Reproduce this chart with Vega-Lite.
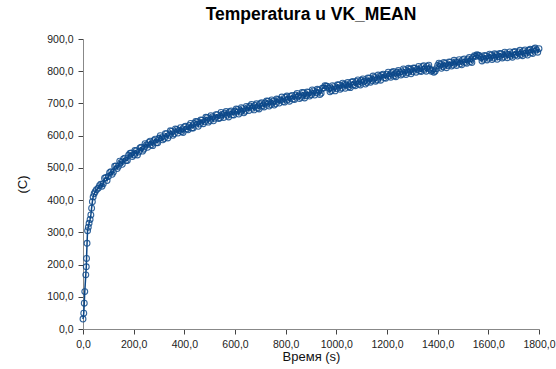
{
  "$schema": "https://vega.github.io/schema/vega-lite/v6.json",
  "autosize": {"type": "none"},
  "width": 456,
  "height": 290,
  "padding": {"left": 83, "top": 39, "right": 17, "bottom": 40},
  "background": "white",
  "title": {"text": "Temperatura u VK_MEAN", "fontSize": 17.5, "fontWeight": "bold", "font": "Liberation Sans", "color": "#000000", "anchor": "middle", "baseline": "alphabetic", "offset": -3},
  "config": {
    "view": {"stroke": null},
    "axis": {"grid": false, "font": "Liberation Sans", "labelFont": "Liberation Sans", "titleFont": "Liberation Sans", "labelFontSize": 10.5, "labelColor": "#222222", "titleFontSize": 13, "titleFontWeight": "normal", "titleColor": "#111111", "domainColor": "#888888", "tickColor": "#444444", "tickSize": 5, "labelPadding": 5}
  },
  "data": {"values": [
    {"t":0,"T":31},{"t":3,"T":49},{"t":5,"T":80},{"t":7,"T":116},{"t":11,"T":168},{"t":13,"T":193},{"t":14,"T":219},{"t":16,"T":266},{"t":18,"T":305},{"t":21,"T":316},{"t":24,"T":328},{"t":28,"T":340},{"t":31,"T":354},{"t":34,"T":375},{"t":37,"T":395},{"t":40,"T":410},{"t":44,"T":420},{"t":48,"T":426},{"t":53,"T":432},{"t":60,"T":437},
    {"t":70,"T":449},{"t":80,"T":451},{"t":90,"T":470},{"t":100,"T":473},{"t":110,"T":488},{"t":120,"T":487},{"t":130,"T":506},{"t":140,"T":505},{"t":150,"T":517},{"t":160,"T":528},{"t":170,"T":523},{"t":180,"T":539},{"t":190,"T":546},{"t":200,"T":540},
    {"t":210,"T":553},{"t":220,"T":549},{"t":230,"T":564},{"t":240,"T":558},{"t":250,"T":571},{"t":260,"T":579},{"t":270,"T":572},{"t":280,"T":585},{"t":290,"T":578},{"t":300,"T":592},
    {"t":310,"T":594},{"t":320,"T":591},{"t":330,"T":606},{"t":340,"T":601},{"t":350,"T":613},{"t":360,"T":606},{"t":370,"T":619},{"t":380,"T":616},{"t":390,"T":613},{"t":400,"T":627},
    {"t":410,"T":621},{"t":420,"T":632},{"t":430,"T":624},{"t":440,"T":638},{"t":450,"T":643},{"t":460,"T":636},{"t":470,"T":648},{"t":480,"T":643},{"t":490,"T":656},{"t":500,"T":647},
    {"t":510,"T":658},{"t":520,"T":654},{"t":530,"T":665},{"t":540,"T":655},{"t":550,"T":666},{"t":560,"T":670},{"t":570,"T":663},{"t":580,"T":674},{"t":590,"T":665},{"t":600,"T":676},
    {"t":610,"T":681},{"t":620,"T":673},{"t":630,"T":684},{"t":640,"T":676},{"t":650,"T":687},{"t":660,"T":692},{"t":670,"T":685},{"t":680,"T":694},{"t":690,"T":686},{"t":700,"T":699},
    {"t":710,"T":693},{"t":720,"T":702},{"t":730,"T":707},{"t":740,"T":697},{"t":750,"T":707},{"t":760,"T":699},{"t":770,"T":712},{"t":780,"T":711},{"t":790,"T":706},{"t":800,"T":719},
    {"t":810,"T":712},{"t":820,"T":722},{"t":830,"T":714},{"t":840,"T":726},{"t":850,"T":723},{"t":860,"T":719},{"t":870,"T":733},{"t":880,"T":724},{"t":890,"T":734},{"t":900,"T":727},
    {"t":910,"T":739},{"t":920,"T":733},{"t":930,"T":741},{"t":940,"T":732},{"t":950,"T":748},{"t":960,"T":754},{"t":970,"T":747},{"t":980,"T":740},{"t":990,"T":752},{"t":1000,"T":746},
    {"t":1010,"T":757},{"t":1020,"T":748},{"t":1030,"T":759},{"t":1040,"T":758},{"t":1050,"T":752},{"t":1060,"T":766},{"t":1070,"T":758},{"t":1080,"T":768},{"t":1090,"T":760},{"t":1100,"T":772},
    {"t":1110,"T":769},{"t":1120,"T":765},{"t":1130,"T":778},{"t":1140,"T":771},{"t":1150,"T":781},{"t":1160,"T":773},{"t":1170,"T":784},{"t":1180,"T":788},{"t":1190,"T":780},{"t":1200,"T":791},
    {"t":1210,"T":785},{"t":1220,"T":796},{"t":1230,"T":786},{"t":1240,"T":797},{"t":1250,"T":797},{"t":1260,"T":791},{"t":1270,"T":804},{"t":1280,"T":796},{"t":1290,"T":806},{"t":1300,"T":798},
    {"t":1310,"T":809},{"t":1320,"T":806},{"t":1330,"T":801},{"t":1340,"T":814},{"t":1350,"T":806},{"t":1360,"T":815},{"t":1370,"T":806},{"t":1380,"T":803},{"t":1390,"T":800},{"t":1400,"T":818},
    {"t":1410,"T":822},{"t":1420,"T":814},{"t":1430,"T":824},{"t":1440,"T":818},{"t":1450,"T":828},{"t":1460,"T":819},{"t":1470,"T":829},{"t":1480,"T":829},{"t":1490,"T":823},{"t":1500,"T":836},
    {"t":1510,"T":828},{"t":1520,"T":838},{"t":1530,"T":830},{"t":1540,"T":843},{"t":1550,"T":846},{"t":1560,"T":850},{"t":1570,"T":843},{"t":1580,"T":837},{"t":1590,"T":847},{"t":1600,"T":840},
    {"t":1610,"T":850},{"t":1620,"T":841},{"t":1630,"T":851},{"t":1640,"T":845},{"t":1650,"T":854},{"t":1660,"T":844},{"t":1670,"T":854},{"t":1680,"T":852},{"t":1690,"T":847},{"t":1700,"T":859},
    {"t":1710,"T":851},{"t":1720,"T":860},{"t":1730,"T":852},{"t":1740,"T":863},{"t":1750,"T":856},{"t":1760,"T":865},{"t":1770,"T":858},{"t":1780,"T":869},{"t":1790,"T":866},{"t":1800,"T":870},
    {"t":65,"T":445},{"t":75,"T":443},{"t":85,"T":468},{"t":95,"T":461},{"t":105,"T":485},{"t":115,"T":480},{"t":125,"T":505},{"t":135,"T":498},{"t":145,"T":521},{"t":155,"T":511},
    {"t":165,"T":530},{"t":175,"T":523},{"t":185,"T":545},{"t":195,"T":535},{"t":205,"T":554},{"t":215,"T":540},{"t":225,"T":562},{"t":235,"T":552},{"t":245,"T":575},{"t":255,"T":564},
    {"t":265,"T":583},{"t":275,"T":569},{"t":285,"T":589},{"t":295,"T":578},{"t":305,"T":600},{"t":315,"T":587},{"t":325,"T":606},{"t":335,"T":593},{"t":345,"T":615},{"t":355,"T":601},
    {"t":365,"T":621},{"t":375,"T":608},{"t":385,"T":625},{"t":395,"T":610},{"t":405,"T":629},{"t":415,"T":618},{"t":425,"T":638},{"t":435,"T":624},{"t":445,"T":644},{"t":455,"T":629},
    {"t":465,"T":649},{"t":475,"T":637},{"t":485,"T":657},{"t":495,"T":642},{"t":505,"T":662},{"t":515,"T":646},{"t":525,"T":665},{"t":535,"T":653},{"t":545,"T":672},{"t":555,"T":656},
    {"t":565,"T":675},{"t":575,"T":658},{"t":585,"T":677},{"t":595,"T":664},{"t":605,"T":683},{"t":615,"T":667},{"t":625,"T":687},{"t":635,"T":671},{"t":645,"T":691},{"t":655,"T":678},
    {"t":665,"T":697},{"t":675,"T":680},{"t":685,"T":699},{"t":695,"T":683},{"t":705,"T":702},{"t":715,"T":689},{"t":725,"T":708},{"t":735,"T":692},{"t":745,"T":711},{"t":755,"T":695},
    {"t":765,"T":714},{"t":775,"T":701},{"t":785,"T":720},{"t":795,"T":704},{"t":805,"T":723},{"t":815,"T":707},{"t":825,"T":725},{"t":835,"T":712},{"t":845,"T":731},{"t":855,"T":715},
    {"t":865,"T":734},{"t":875,"T":717},{"t":885,"T":736},{"t":895,"T":723},{"t":905,"T":742},{"t":915,"T":726},{"t":925,"T":744},{"t":935,"T":728},{"t":945,"T":747},{"t":955,"T":755},
    {"t":965,"T":753},{"t":975,"T":736},{"t":985,"T":755},{"t":995,"T":739},{"t":1005,"T":758},{"t":1015,"T":744},{"t":1025,"T":763},{"t":1035,"T":747},{"t":1045,"T":765},{"t":1055,"T":749},
    {"t":1065,"T":768},{"t":1075,"T":755},{"t":1085,"T":773},{"t":1095,"T":757},{"t":1105,"T":776},{"t":1115,"T":760},{"t":1125,"T":779},{"t":1135,"T":766},{"t":1145,"T":785},{"t":1155,"T":769},
    {"t":1165,"T":788},{"t":1175,"T":772},{"t":1185,"T":791},{"t":1195,"T":778},{"t":1205,"T":797},{"t":1215,"T":781},{"t":1225,"T":799},{"t":1235,"T":783},{"t":1245,"T":802},{"t":1255,"T":788},
    {"t":1265,"T":807},{"t":1275,"T":790},{"t":1285,"T":809},{"t":1295,"T":792},{"t":1305,"T":810},{"t":1315,"T":797},{"t":1325,"T":815},{"t":1335,"T":799},{"t":1345,"T":817},{"t":1355,"T":800},
    {"t":1365,"T":819},{"t":1375,"T":800},{"t":1385,"T":797},{"t":1395,"T":808},{"t":1405,"T":825},{"t":1415,"T":809},{"t":1425,"T":827},{"t":1435,"T":811},{"t":1445,"T":829},{"t":1455,"T":816},
    {"t":1465,"T":834},{"t":1475,"T":818},{"t":1485,"T":836},{"t":1495,"T":820},{"t":1505,"T":838},{"t":1515,"T":825},{"t":1525,"T":843},{"t":1535,"T":827},{"t":1545,"T":848},{"t":1555,"T":851},
    {"t":1565,"T":848},{"t":1575,"T":832},{"t":1585,"T":849},{"t":1595,"T":835},{"t":1605,"T":853},{"t":1615,"T":836},{"t":1625,"T":854},{"t":1635,"T":837},{"t":1645,"T":855},{"t":1655,"T":841},
    {"t":1665,"T":859},{"t":1675,"T":842},{"t":1685,"T":860},{"t":1695,"T":843},{"t":1705,"T":861},{"t":1715,"T":847},{"t":1725,"T":865},{"t":1735,"T":848},{"t":1745,"T":866},{"t":1755,"T":850},
    {"t":1765,"T":868},{"t":1775,"T":855},{"t":1785,"T":872},{"t":1795,"T":859}
  ]},
  "encoding": {
    "x": {"field": "t", "type": "quantitative", "scale": {"domain": [0, 1800], "nice": false, "zero": false},
      "axis": {"title": "Время (s)", "values": [0,200,400,600,800,1000,1200,1400,1600,1800], "labelExpr": "replace(format(datum.value, '.1f'), '.', ',')", "titlePadding": 1, "labelFlush": false}},
    "y": {"field": "T", "type": "quantitative", "scale": {"domain": [0, 900], "nice": false},
      "axis": {"title": "(C)", "values": [0,100,200,300,400,500,600,700,800,900], "labelExpr": "replace(format(datum.value, '.1f'), '.', ',')", "titlePadding": 17, "labelFlush": false}}
  },
  "layer": [
    {"mark": {"type": "line", "color": "#0c4787", "strokeWidth": 1.5}, "encoding": {"order": {"field": "t", "type": "quantitative"}}},
    {"mark": {"type": "point", "filled": false, "shape": "circle", "size": 34, "color": "#0e4a8b", "strokeWidth": 1.1, "opacity": 0.85}}
  ]
}
